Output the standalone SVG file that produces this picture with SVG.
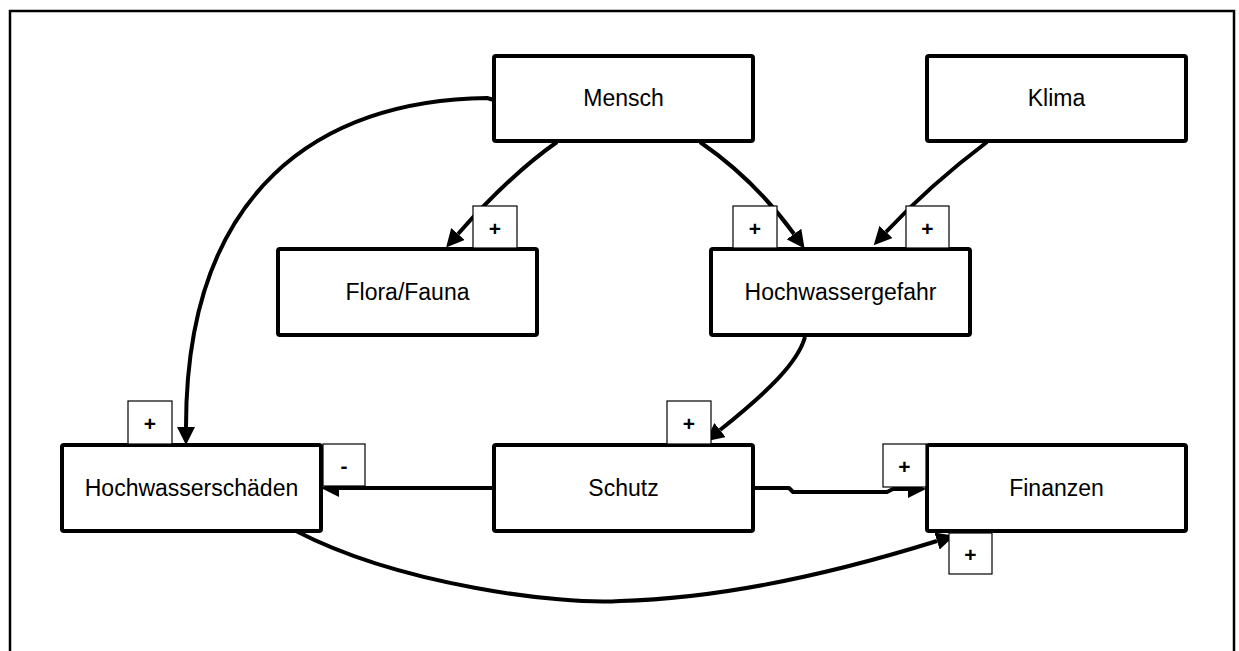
<svg xmlns="http://www.w3.org/2000/svg" width="1239" height="651" viewBox="0 0 1239 651">
<style>
.box{fill:#fff;stroke:#000;stroke-width:4;stroke-linejoin:round}
.lbl{fill:#fff;stroke:#000;stroke-width:1.2}
.t{font-family:"Liberation Sans",Arial,sans-serif;font-size:23px;fill:#000;text-anchor:middle}
.s{font-family:"Liberation Sans",Arial,sans-serif;font-size:21px;font-weight:bold;fill:#000;text-anchor:middle}
.c{fill:none;stroke:#000;stroke-width:4;stroke-linejoin:round}
</style>
<defs>
<marker id="ah" markerUnits="userSpaceOnUse" viewBox="0 0 18 18" refX="0" refY="9" markerWidth="18" markerHeight="18" orient="auto">
<path d="M0,0 L18,9 L0,18 z" fill="#000"/>
</marker>
</defs>
<rect x="0" y="0" width="1239" height="651" fill="#fff"/>
<rect x="10" y="11" width="1224" height="700" fill="none" stroke="#000" stroke-width="2.5"/>

<g id="connectors">
<path class="c" d="M494,100 L487,98 C320,100 186,190 186,427" marker-end="url(#ah)"/>
<path class="c" d="M557,142 Q510,175 458,234" marker-end="url(#ah)"/>
<path class="c" d="M700,142 Q755,180 794,234" marker-end="url(#ah)"/>
<path class="c" d="M987,142 Q930,185 886,232" marker-end="url(#ah)"/>
<path class="c" d="M805,337 C798,362 770,390 720,430" marker-end="url(#ah)"/>
<path class="c" d="M494,488 L339,488" marker-end="url(#ah)"/>
<path class="c" d="M753,488 L789,488 L793,492 L887,492 L893,489 L908,489" marker-end="url(#ah)"/>
<path class="c" d="M296,531 C400,585 560,605 620,601 C740,598 860,565 937,541" marker-end="url(#ah)"/>
</g>

<g id="mensch"><rect class="box" x="494" y="56" width="259" height="85" rx="2"/><text class="t" x="623.5" y="106">Mensch</text></g>
<g id="klima"><rect class="box" x="927" y="56" width="259" height="85" rx="2"/><text class="t" x="1056.5" y="106">Klima</text></g>
<g id="florafauna"><rect class="box" x="278" y="249" width="259" height="86" rx="2"/><text class="t" x="407.5" y="300">Flora/Fauna</text></g>
<g id="hochwassergefahr"><rect class="box" x="711" y="249" width="259" height="86" rx="2"/><text class="t" x="840.5" y="300">Hochwassergefahr</text></g>
<g id="hochwasserschaeden"><rect class="box" x="62" y="445" width="259" height="86" rx="2"/><text class="t" x="191.5" y="496">Hochwasserschäden</text></g>
<g id="schutz"><rect class="box" x="494" y="445" width="259" height="86" rx="2"/><text class="t" x="623.5" y="496">Schutz</text></g>
<g id="finanzen"><rect class="box" x="927" y="445" width="259" height="86" rx="2"/><text class="t" x="1056.5" y="496">Finanzen</text></g>

<g id="labels">
<rect class="lbl" x="473" y="206" width="44" height="42"/><text class="s" x="495" y="236">+</text>
<rect class="lbl" x="733" y="206" width="44" height="42"/><text class="s" x="755" y="236">+</text>
<rect class="lbl" x="906" y="206" width="43" height="42"/><text class="s" x="927.5" y="236">+</text>
<rect class="lbl" x="128" y="401" width="44" height="43"/><text class="s" x="150" y="431">+</text>
<rect class="lbl" x="323" y="444" width="42" height="42"/><text class="s" x="344" y="473">-</text>
<rect class="lbl" x="667" y="401" width="44" height="43"/><text class="s" x="689" y="431">+</text>
<rect class="lbl" x="883" y="444" width="43" height="43"/><text class="s" x="904.5" y="474">+</text>
<rect class="lbl" x="949" y="533" width="43" height="41"/><text class="s" x="970.5" y="562">+</text>
</g>
</svg>
